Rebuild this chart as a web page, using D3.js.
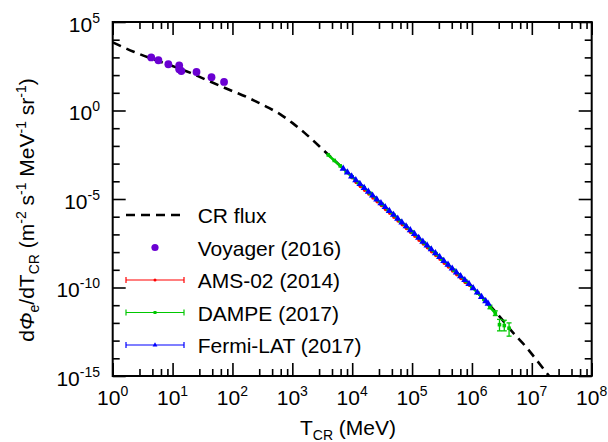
<!DOCTYPE html>
<html><head><meta charset="utf-8">
<script src="https://cdn.jsdelivr.net/npm/d3@7"></script>
<style>body{margin:0;background:#fff} svg{display:block} text{font-family:"Liberation Sans",Arial,sans-serif;fill:#000}</style>
</head><body><svg id="c" width="608" height="442"></svg>
<script>
// ---- data ----
const xMajor = [1, 1e1, 1e2, 1e3, 1e4, 1e5, 1e6, 1e7, 1e8];
const xTickExp = ["0","1","2","3","4","5","6","7","8"];
const xMinorFactors = [2.8, 4.6, 6.4, 8.2];
const yMajor = [1e5, 1, 1e-5, 1e-10, 1e-15];
const yTickExp = ["5","0","-5","-10","-15"];
const yMinor = [1e4,1e3,1e2,1e1,1e-1,1e-2,1e-3,1e-4,1e-6,1e-7,1e-8,1e-9,1e-11,1e-12,1e-13,1e-14];

// CR flux model curve (T in MeV, flux in m^-2 s^-1 MeV^-1 sr^-1)
const crT = [1, 2.24, 6.31, 19.5, 37.2, 117.5, 158.5, 251, 398, 631, 1000, 1585, 3715, 1e4, 31623, 1e5, 316228, 1e6, 2.51e6, 5.25e6, 8.13e6, 1.2e7, 2.0e7];
const crF = [7079, 2089, 562, 138, 52.5, 10, 6.61, 3.16, 1.45, 0.603, 0.200, 0.0562, 3.98e-3, 1.78e-4, 5.01e-6, 1.41e-7, 3.98e-9, 1.07e-10, 3.98e-12, 2.09e-13, 4.17e-14, 7.94e-15, 8.9e-16];

// Voyager (2016)
const voyT = [4.4, 5.8, 8.5, 12.9, 12.9, 14.0, 25.1, 44.7, 72.4];
const voyF = [1000, 690, 410, 355, 215, 170, 150, 76, 41];

// AMS-02 (2014)
const amsT = [1.0e4, 11749, 13804, 16218, 19055, 22387, 26303, 30903, 36308, 42658, 50119, 58884, 69183, 81283, 95499, 112202, 131826, 154882, 181970, 213796, 251189, 295121, 346737, 407380, 478630, 562341, 660693, 776247, 912011];
const amsF = [1.66e-4, 8.77e-5, 5.33e-5, 3.23e-5, 1.96e-5, 1.19e-5, 7.21e-6, 4.37e-6, 2.66e-6, 1.61e-6, 9.77e-7, 5.93e-7, 3.60e-7, 2.19e-7, 1.33e-7, 8.04e-8, 4.88e-8, 2.96e-8, 1.79e-8, 1.09e-8, 6.61e-9, 4.01e-9, 2.43e-9, 1.48e-9, 8.96e-10, 5.43e-10, 3.30e-10, 2.00e-10, 1.38e-10];

// DAMPE (2017)
const dampeT = [3981, 5012, 6310, 7943, 10000, 12589, 15849, 19953, 25119, 31623, 39811, 50119, 63096, 79433, 1e5, 125893, 158489, 199526, 251189, 316228, 398107, 501187, 630957, 794328, 1e6, 1258925, 1584893, 1995262, 2454709, 2884032, 3467369, 4168694];
const dampeF = [3.09e-3, 1.51e-3, 7.41e-4, 3.63e-4, 1.78e-4, 8.71e-5, 4.27e-5, 2.09e-5, 1.02e-5, 5.01e-6, 2.45e-6, 1.20e-6, 5.89e-7, 2.88e-7, 1.41e-7, 6.92e-8, 3.39e-8, 1.66e-8, 8.13e-9, 3.98e-9, 1.95e-9, 9.55e-10, 4.68e-10, 2.29e-10, 1.07e-10, 4.79e-11, 2.14e-11, 7.94e-12, 3.55e-12, 7.94e-13, 7.08e-13, 5.01e-13];
const dampeLo = [null,null,null,null,null,null,null,null,null,null,null,null,null,null,null,null,null,null,null,null,null,null,null,null,null,null,null,6.3e-12,2.6e-12,3.55e-13,3.55e-13,1.78e-13];
const dampeHi = [null,null,null,null,null,null,null,null,null,null,null,null,null,null,null,null,null,null,null,null,null,null,null,null,null,null,null,1.0e-11,4.8e-12,1.58e-12,1.41e-12,1.0e-12];

// Fermi-LAT (2017)
const fermiT = [7079, 8318, 9772, 11482, 13490, 15849, 18621, 21878, 25704, 30200, 35481, 41687, 48978, 57544, 67608, 79433, 93325, 109648, 128825, 151356, 177828, 208930, 245471, 288403, 338844, 398107, 467735, 549541, 645654, 758578, 891251, 1.047e6, 1.230e6, 1.445e6, 1.698e6, 1.862e6];
const fermiF = [5.19e-4, 3.15e-4, 1.91e-4, 1.16e-4, 7.03e-5, 4.27e-5, 2.59e-5, 1.57e-5, 9.53e-6, 5.78e-6, 3.51e-6, 2.13e-6, 1.29e-6, 7.83e-7, 4.75e-7, 2.88e-7, 1.75e-7, 1.06e-7, 6.44e-8, 3.91e-8, 2.37e-8, 1.44e-8, 8.73e-9, 5.30e-9, 3.21e-9, 1.95e-9, 1.18e-9, 7.18e-10, 4.36e-10, 2.64e-10, 1.60e-10, 9.1e-11, 5.19e-11, 2.95e-11, 1.68e-11, 1.22e-11];

const legendLabels = ["CR flux", "Voyager (2016)", "AMS-02 (2014)", "DAMPE (2017)", "Fermi-LAT (2017)"];

// ---- layout ----
const L = 112.7, R = 591.7, T = 22, B = 376;
const COL = {voy: "#6a00d2", ams: "#ff0000", dampe: "#00c800", fermi: "#0000ff"};
const svg = d3.select("#c");
const x = d3.scaleLog().domain([1, 1e8]).range([L, R]);
const y = d3.scaleLog().domain([1e-15, 1e5]).range([B, T]);

svg.append("defs").append("clipPath").attr("id", "clip")
  .append("rect").attr("x", L).attr("y", T).attr("width", R - L).attr("height", B - T);

// ticks
const xMinor = [];
xMajor.slice(0, -1).forEach(d => xMinorFactors.forEach(f => xMinor.push(d * f)));
function ax(gen, tv, size, tr) {
  const g = svg.append("g").attr("transform", tr)
    .call(gen.tickValues(tv).tickSizeInner(-size).tickSizeOuter(0).tickFormat(""));
  g.select(".domain").remove();
  g.selectAll(".tick line").attr("stroke", "#000").attr("stroke-width", 1.6);
}
ax(d3.axisBottom(x), xMajor, 13, `translate(0,${B})`);
ax(d3.axisBottom(x), xMinor, 7, `translate(0,${B})`);
ax(d3.axisTop(x), xMajor, 13, `translate(0,${T})`);
ax(d3.axisTop(x), xMinor, 7, `translate(0,${T})`);
ax(d3.axisLeft(y), yMajor, 13, `translate(${L},0)`);
ax(d3.axisLeft(y), yMinor, 7, `translate(${L},0)`);
ax(d3.axisRight(y), yMajor, 13, `translate(${R},0)`);
ax(d3.axisRight(y), yMinor, 7, `translate(${R},0)`);

svg.append("rect").attr("x", L).attr("y", T).attr("width", R - L).attr("height", B - T)
  .attr("fill", "none").attr("stroke", "#000").attr("stroke-width", 2);

// tick labels
function pow(t, e) {
  t.append("tspan").text("10");
  t.append("tspan").attr("font-size", 14).attr("dy", -9).text(e);
}
xMajor.forEach((d, i) => {
  const t = svg.append("text").attr("x", x(d)).attr("y", 405).attr("text-anchor", "middle").attr("font-size", 21);
  pow(t, xTickExp[i]);
});
yMajor.forEach((d, i) => {
  const t = svg.append("text").attr("x", 100).attr("y", y(d) + 9.5).attr("text-anchor", "end").attr("font-size", 21);
  pow(t, yTickExp[i]);
});

// axis titles
const xt = svg.append("text").attr("x", 348).attr("y", 435).attr("text-anchor", "middle").attr("font-size", 21);
xt.append("tspan").text("T");
xt.append("tspan").attr("font-size", 14).attr("dy", 5).text("CR");
xt.append("tspan").attr("dy", -5).text(" (MeV)");

const yt = svg.append("text").attr("transform", "translate(34,210) rotate(-90)").attr("text-anchor", "middle").attr("font-size", 21);
[["d",0,21],["Φ",0,21,"italic"],["e",5,14],["/dT",-5,21],["CR",5,14],[" (m",-5,21],["-2",-8,14],[" s",8,21],["-1",-8,14],[" MeV",8,21],["-1",-8,14],[" sr",8,21],["-1",-8,14],[")",8,21]]
  .forEach(([s, dy, fs, st]) => {
    const sp = yt.append("tspan").attr("dy", dy).attr("font-size", fs).text(s);
    if (st) sp.attr("font-style", st);
  });

// data
const plot = svg.append("g").attr("clip-path", "url(#clip)");
const line = d3.line().x(d => x(d[0])).y(d => y(d[1])).curve(d3.curveMonotoneX);
plot.append("path").datum(crT.map((t, i) => [t, crF[i]])).attr("d", line)
  .attr("fill", "none").attr("stroke", "#000").attr("stroke-width", 2.6).attr("stroke-dasharray", "9,6");

plot.selectAll(".voy").data(voyT.map((t, i) => [t, voyF[i]])).join("circle")
  .attr("cx", d => x(d[0])).attr("cy", d => y(d[1])).attr("r", 3.9).attr("fill", COL.voy);

// AMS-02
plot.selectAll(".ams").data(amsT.map((t, i) => [t, amsF[i]])).join("circle")
  .attr("cx", d => x(d[0])).attr("cy", d => y(d[1])).attr("r", 2).attr("fill", COL.ams);

// DAMPE
const dd = dampeT.map((t, i) => ({t, f: dampeF[i], lo: dampeLo[i], hi: dampeHi[i]}));
const gD = plot.append("g").attr("stroke", COL.dampe).attr("stroke-width", 1.3);
dd.filter(d => d.lo !== null).forEach(d => {
  const cx = x(d.t);
  gD.append("line").attr("x1", cx).attr("x2", cx).attr("y1", y(d.lo)).attr("y2", y(d.hi));
  gD.append("line").attr("x1", cx - 2.5).attr("x2", cx + 2.5).attr("y1", y(d.lo)).attr("y2", y(d.lo));
  gD.append("line").attr("x1", cx - 2.5).attr("x2", cx + 2.5).attr("y1", y(d.hi)).attr("y2", y(d.hi));
});
plot.append("path").datum(dd.slice(0, 29).map(d => [d.t, d.f])).attr("d", d3.line().x(d => x(d[0])).y(d => y(d[1])))
  .attr("fill", "none").attr("stroke", COL.dampe).attr("stroke-width", 2.6);
plot.selectAll(".dm").data(dd).join("rect")
  .attr("x", d => x(d.t) - 1.8).attr("y", d => y(d.f) - 1.8).attr("width", 3.6).attr("height", 3.6).attr("fill", COL.dampe);

// Fermi-LAT
const tri = d3.symbol().type(d3.symbolTriangle).size(22);
plot.selectAll(".fm").data(fermiT.map((t, i) => [t, fermiF[i]])).join("path")
  .attr("transform", d => `translate(${x(d[0])},${y(d[1])})`).attr("d", tri).attr("fill", COL.fermi);

// legend
const rows = [215, 247.5, 280, 312.5, 345];
const lx1 = 126, lx2 = 184, lm = 155;
svg.append("line").attr("x1", lx1).attr("x2", lx2).attr("y1", rows[0]).attr("y2", rows[0])
  .attr("stroke", "#000").attr("stroke-width", 2.6).attr("stroke-dasharray", "9,6");
svg.append("circle").attr("cx", lm).attr("cy", rows[1]).attr("r", 3.6).attr("fill", COL.voy);
[[COL.ams, "c"], [COL.dampe, "s"], [COL.fermi, "t"]].forEach(([c, m], i) => {
  const yy = rows[i + 2];
  const g = svg.append("g").attr("stroke", c).attr("stroke-width", 1.2);
  g.append("line").attr("x1", lx1).attr("x2", lx2).attr("y1", yy).attr("y2", yy);
  g.append("line").attr("x1", lx1).attr("x2", lx1).attr("y1", yy - 3).attr("y2", yy + 3);
  g.append("line").attr("x1", lx2).attr("x2", lx2).attr("y1", yy - 3).attr("y2", yy + 3);
  if (m === "c") svg.append("circle").attr("cx", lm).attr("cy", yy).attr("r", 1.5).attr("fill", c);
  if (m === "s") svg.append("rect").attr("x", lm - 1.5).attr("y", yy - 1.5).attr("width", 3).attr("height", 3).attr("fill", c);
  if (m === "t") svg.append("path").attr("transform", `translate(${lm},${yy})`).attr("d", d3.symbol().type(d3.symbolTriangle).size(10)).attr("fill", c);
});
legendLabels.forEach((s, i) => {
  svg.append("text").attr("x", 197.7).attr("y", rows[i] + 8).attr("font-size", 21).text(s);
});
</script></body></html>
